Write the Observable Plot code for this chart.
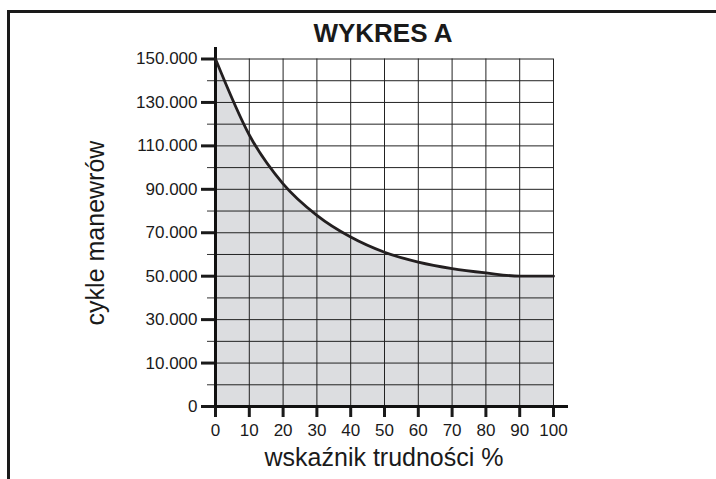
<!DOCTYPE html>
<html><head><meta charset="utf-8">
<script src="https://cdn.jsdelivr.net/npm/d3@7"></script>
<script src="https://cdn.jsdelivr.net/npm/@observablehq/plot@0.6"></script>
<style>
html,body{margin:0;padding:0;background:#fff;}
#wrap{position:relative;width:716px;height:479px;overflow:hidden;font-family:"Liberation Sans",Arial,sans-serif;color:#1a1a1a;}
#frameTop{position:absolute;left:7px;top:10px;width:709px;height:3px;background:#1a1a1a;}
#frameLeft{position:absolute;left:7px;top:10px;width:3px;height:469px;background:#1a1a1a;}
#title{position:absolute;left:0;width:766px;top:19px;text-align:center;font-weight:bold;font-size:26px;line-height:28px;}
#chart{position:absolute;left:0;top:0;}
</style></head><body>
<div id="wrap"><div id="frameTop"></div><div id="frameLeft"></div><div id="title"></div><div id="chart"></div></div>
<script>
const title = "WYKRES A";
const xLabel = "wskaźnik trudności %";
const yLabel = "cykle manewrów";
const difficulty = [0, 10, 20, 30, 40, 50, 60, 70, 80, 90, 100];
const cycles = [150000, 115000, 92500, 78000, 68000, 61000, 56500, 53500, 51500, 50000, 50000];
const xTicks = [0, 10, 20, 30, 40, 50, 60, 70, 80, 90, 100];
const xGrid = [10, 20, 30, 40, 50, 60, 70, 80, 90, 100];
const yTicks = [0, 10000, 30000, 50000, 70000, 90000, 110000, 130000, 150000];
const yTickLabels = ["0", "10.000", "30.000", "50.000", "70.000", "90.000", "110.000", "130.000", "150.000"];
const yMinor = [5000, 20000, 40000, 60000, 80000, 100000, 120000, 140000];
const yGrid = [5000, 10000, 20000, 30000, 40000, 50000, 60000, 70000, 80000, 90000, 100000, 110000, 120000, 130000, 140000, 150000];

document.getElementById("title").textContent = title;
const data = difficulty.map((d, i) => ({x: d, y: cycles[i]}));
// the printed axis gives the 0–10.000 band the same height as a 20.000 band
const stretchLow = v => (v >= 10000 ? v : 2 * v - 10000);
const yLabelMap = new Map(yTicks.map((t, i) => [stretchLow(t), yTickLabels[i]]));

const chart = Plot.plot({
  width: 716, height: 479,
  marginLeft: 215, marginRight: 148, marginTop: 47, marginBottom: 73,
  style: {fontFamily: "'Liberation Sans', Arial, sans-serif", fontSize: "17px", color: "#1a1a1a", background: "transparent"},
  x: {domain: [0, 100], range: [215, 553], axis: null},
  y: {transform: stretchLow, domain: [-10000, 150000], range: [406, 58.5], axis: null},
  marks: [
    Plot.areaY(data, {x: "x", y: "y", curve: "monotone-x", fill: "#dcdde0"}),
    Plot.ruleX(xGrid, {y1: 0, y2: 150000, stroke: "#222", strokeWidth: 1}),
    Plot.ruleY(yGrid, {x1: 0, x2: 100, stroke: "#222", strokeWidth: 1}),
    Plot.axisY({ticks: yMinor.map(stretchLow), tickSize: 8, fill: "none", label: null, strokeWidth: 1, stroke: "#333"}),
    Plot.axisY({ticks: yTicks.map(stretchLow), tickSize: 14, tickPadding: 4, strokeWidth: 3, label: null, fontSize: 17, tickFormat: d => yLabelMap.get(d)}),
    Plot.axisX({ticks: xTicks, tickSize: 11, tickPadding: 6, strokeWidth: 3, label: null, fontSize: 17, anchor: "bottom"}),
    Plot.ruleY([0], {stroke: "#111", strokeWidth: 3}),
    Plot.ruleX([0], {stroke: "#111", strokeWidth: 3}),
    Plot.lineY(data, {x: "x", y: "y", curve: "monotone-x", stroke: "#231f20", strokeWidth: 2.8}),
    Plot.text([xLabel], {frameAnchor: "bottom", textAnchor: "middle", dx: -8, dy: 59, fontSize: 25, fill: "#1a1a1a"}),
    Plot.text([yLabel], {frameAnchor: "left", textAnchor: "middle", rotate: -90, dx: -120, dy: 6, fontSize: 25, fill: "#1a1a1a"})
  ]
});
document.getElementById("chart").appendChild(chart);
</script>
</body></html>
